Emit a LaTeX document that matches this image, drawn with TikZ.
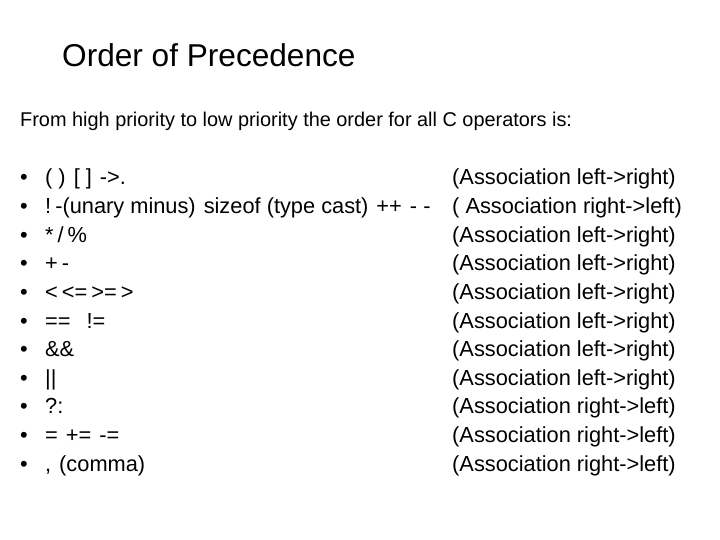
\documentclass[tikz,border=0pt]{standalone}
\usepackage{fontspec}
\setmainfont{Liberation Sans}
\usetikzlibrary{positioning}
\newcommand{\gap}{\hspace{4pt}}
\tikzset{
        base/.style={inner sep=0pt, anchor=base west},
        title/.style={base, font=\fontsize{31.6}{36}\selectfont},
        intro/.style={base, font=\fontsize{19.9}{23}\selectfont},
        row/.style={base, font=\fontsize{21.8}{26}\selectfont},
 }
\begin{document}
\begin{tikzpicture}[x=1pt, y=-1pt]
    \useasboundingbox (0,0) rectangle (720,540);
    \node[title] (t) at (62,67) {Order of Precedence};
    \node[intro] (s) at (20,127) {From high priority to low priority the order for all C operators is:};

    \foreach \i/\op/\as in {
        0/{( )\gap\gap[ ]\gap\gap->.}/{(Association left->right)},
        1/{!\gap-(unary minus)\gap\gap sizeof (type cast)\gap\gap ++\gap\gap - -}/{( Association right->left)},
        2/{*\gap/\gap\%}/{(Association left->right)},
        3/{+\gap-}/{(Association left->right)},
        4/{<\gap<=\gap>=\gap>}/{(Association left->right)},
        5/{==\gap\gap\gap\gap!=}/{(Association left->right)},
        6/{\&\&}/{(Association left->right)},
        7/{||}/{(Association left->right)},
        8/{?:}/{(Association right->left)},
        9/{=\gap\gap+=\gap\gap-=}/{(Association right->left)},
        10/{,\gap\gap(comma)}/{(Association right->left)}}
    {
        \node[row] (b\i) at (20,185+28.6*\i) {•};
        \node[row] (op\i) at (45,185+28.6*\i) {\op};
        \node[row] (as\i) at (452,185+28.6*\i) {\as};
    }
\end{tikzpicture}
\end{document}
